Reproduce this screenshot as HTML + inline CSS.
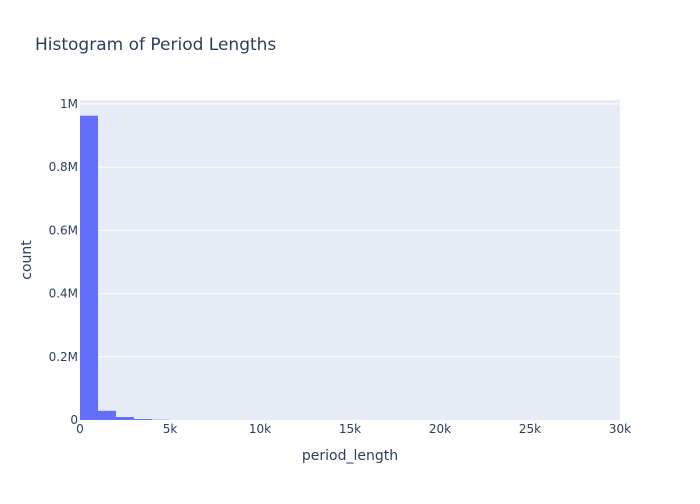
<!DOCTYPE html>
<html><head><meta charset="utf-8"><style>
body{margin:0;background:#fff;font-family:"DejaVu Sans",sans-serif;}
svg text{font-family:"DejaVu Sans",sans-serif;fill:#2a3f5f;}
</style></head><body>
<svg width="700" height="500">
<rect width="700" height="500" fill="#fff"/>
<text x="35" y="50" font-size="17">Histogram of Period Lengths</text>
<rect x="80" y="100" width="540" height="320" fill="#e5ecf6"/>
<g id="grid"></g><g id="bars"></g><g id="xt"></g><g id="yt"></g>
<text x="350" y="460" font-size="14" text-anchor="middle">period_length</text>
<text x="31" y="260" font-size="14" text-anchor="middle" transform="rotate(-90 31 260)">count</text>
</svg>
<script>
const binStarts=[0,1000,2000,3000,4000];
const counts=[963000,29000,9500,3000,800];
const binWidth=1000;
const xTicks=[0,5000,10000,15000,20000,25000,30000];
const xTickLabels=["0","5k","10k","15k","20k","25k","30k"];
const yTicks=[0,200000,400000,600000,800000,1000000];
const yTickLabels=["0","0.2M","0.4M","0.6M","0.8M","1M"];
const X0=80,X1=620,Y0=420,Y1=100,XMAX=30000,YMAX=1012700;
const sx=v=>X0+v/XMAX*(X1-X0), sy=v=>Y0-v/YMAX*(Y0-Y1);
const NS="http://www.w3.org/2000/svg";
function mk(t,a,p){const e=document.createElementNS(NS,t);for(const k in a)e.setAttribute(k,a[k]);p.appendChild(e);return e;}
const grid=document.getElementById('grid'),bars=document.getElementById('bars'),xt=document.getElementById('xt'),yt=document.getElementById('yt');
yTicks.forEach((v,i)=>{
 if(v>0){const l=mk('line',{x1:X0,x2:X1,y1:sy(v),y2:sy(v),stroke:'#fff','stroke-width':1},grid);
 
 }
 const t=mk('text',{x:X0-2,y:sy(v)+4,'font-size':12,'text-anchor':'end'},yt);t.textContent=yTickLabels[i];
 
 
});
xTicks.forEach((v,i)=>{
 const t=mk('text',{x:sx(v),y:433,'font-size':12,'text-anchor':'middle'},xt);t.textContent=xTickLabels[i];
 
 
});
binStarts.forEach((b,i)=>{
 const r=mk('rect',{x:sx(b),y:sy(counts[i]),width:sx(b+binWidth)-sx(b),height:Y0-sy(counts[i]),fill:'#636efa'},bars);
 
 
});
</script>
</body></html>
